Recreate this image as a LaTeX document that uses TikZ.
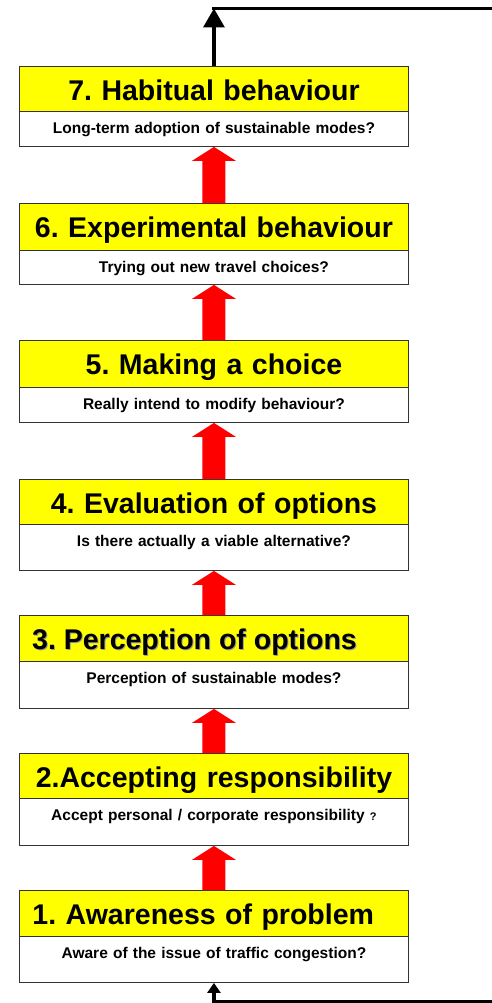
\documentclass[tikz,border=0pt]{standalone}
\usepackage{fontspec}
\setmainfont{Liberation Sans}
\usetikzlibrary{calc,arrows.meta}
\frenchspacing

\definecolor{stageyellow}{HTML}{FFFF00}
\definecolor{stepred}{HTML}{FF0000}
\definecolor{boxline}{HTML}{333333}

\newcommand\titlefont{\fontsize{28.5}{30}\selectfont\bfseries}
\newcommand\subfont{\fontsize{15.5}{17}\selectfont\bfseries}

% up-pointing block arrow from the top of a lower stage to the bottom of the stage above
\newcommand\blockarrow[2]{%
  \fill[stepred] (#2.south) -- ++(22,14) -- ++(-10.5,0)
    -- ($(#1.north)+(11.5,0)$) -- ($(#1.north)+(-11.5,0)$)
    -- ($(#2.south)+(-11.5,14)$) -- ++(-10.5,0) -- cycle;}

\tikzset{
  stagehead/.style={draw=boxline, fill=stageyellow, line width=0.9pt,
    anchor=north west, inner xsep=13pt, inner ysep=0pt, text width=363pt,
    text height=34pt, font=\titlefont},
  stagesub/.style={draw=boxline, fill=white, line width=0.9pt,
    anchor=north west, inner xsep=5pt, inner ysep=0pt, text width=379pt,
    text height=22pt, align=center, font=\subfont},
  loopline/.style={line width=3.5pt, black},
}

\begin{document}
\begin{tikzpicture}[x=1pt,y=-1pt]
\useasboundingbox (0,0) rectangle (491,1003);

% stage 7
\node[stagehead, align=center, text depth=11pt] (t7) at (19,66) {7. Habitual behaviour};
\node[stagesub, text depth=13pt] (s7) at (19,111) {Long-term adoption of sustainable modes?};
% stage 6
\node[stagehead, align=center, text depth=13pt] (t6) at (19,203) {6. Experimental behaviour};
\node[stagesub, text depth=12pt] (s6) at (19,250) {Trying out new travel choices?};
% stage 5
\node[stagehead, align=center, text depth=13pt] (t5) at (19,340) {5. Making a choice};
\node[stagesub, text depth=13pt] (s5) at (19,387) {Really intend to modify behaviour?};
% stage 4
\node[stagehead, align=center, text depth=11pt] (t4) at (19,479) {4. Evaluation of options};
\node[stagesub, text depth=24pt] (s4) at (19,524) {Is there actually a viable alternative?};
% stage 3 (title with a soft drop shadow)
\node[stagehead, align=left, text depth=12pt] (t3) at (19,615) {};
\node[anchor=base west, inner sep=0pt, font=\titlefont, text=black!40] (t3shadow)
  at ($(t3.north west)+(14,35)$) {3. Perception of options};
\node[anchor=base west, inner sep=0pt, font=\titlefont] (t3text)
  at ($(t3.north west)+(13,34)$) {3. Perception of options};
\node[stagesub, text depth=25pt] (s3) at (19,661) {Perception of sustainable modes?};
% stage 2
\node[stagehead, align=center, text depth=11pt] (t2) at (19,753) {2.Accepting responsibility};
\node[stagesub, text depth=25pt] (s2) at (19,798)
  {Accept personal / corporate responsibility {\fontsize{11}{12}\selectfont ?}};
% stage 1
\node[stagehead, align=left, text depth=12pt] (t1) at (19,890) {1. Awareness of problem};
\node[stagesub, text depth=24pt] (s1) at (19,936) {Aware of the issue of traffic congestion?};

% progression arrows
\blockarrow{t6}{s7}
\blockarrow{t5}{s6}
\blockarrow{t4}{s5}
\blockarrow{t3}{s4}
\blockarrow{t2}{s3}
\blockarrow{t1}{s2}

% feedback loop leaving the top and re-entering at the bottom
\coordinate (topright) at (493,8.5);
\coordinate (topturn) at (t7.north |- topright);
\draw[loopline, -{Triangle[length=19pt,width=21pt]}] (t7.north) -- (topturn);
\draw[loopline] ($(topturn)+(-1.75,0)$) -- (topright);

\coordinate (botright) at (493,1001.5);
\coordinate (botturn) at (s1.south |- botright);
\draw[loopline, -{Triangle[length=10pt,width=13pt]}] (botright) -- (botturn) -- (s1.south);
\end{tikzpicture}
\end{document}
